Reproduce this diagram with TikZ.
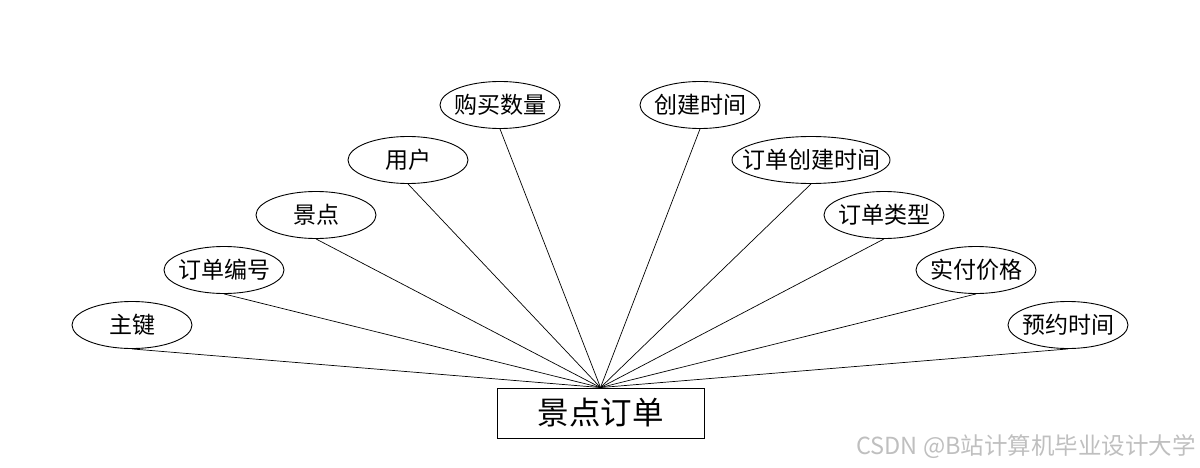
\documentclass[tikz,border=0pt]{standalone}
\usepackage{fontspec}
\setmainfont{Noto Sans CJK SC}
\usetikzlibrary{shapes.geometric}
\begin{document}
\begin{tikzpicture}[x=1pt,y=-1pt,
  attr/.style={draw,ellipse,line width=0.9pt,minimum width=120pt,minimum height=47pt,inner sep=0pt,font=\fontsize{23}{26}\selectfont},
  ent/.style={draw,rectangle,line width=0.9pt,minimum width=207pt,minimum height=50pt,inner sep=0pt,font=\fontsize{31.5}{36}\selectfont},
  conn/.style={line width=0.7pt}]
\useasboundingbox (0,0) rectangle (1200,468);
\node[ent] (box) at (600.5,413) {景点订单};
\coordinate (hub) at (box.north);
\node[attr] (a1) at (132,325) {\makebox[0pt]{主键}};
\node[attr] (a2) at (224,270) {\makebox[0pt]{订单编号}};
\node[attr] (a3) at (316,215) {\makebox[0pt]{景点}};
\node[attr] (a4) at (408,160) {\makebox[0pt]{用户}};
\node[attr] (a5) at (500,105) {\makebox[0pt]{购买数量}};
\node[attr] (a6) at (700,105) {\makebox[0pt]{创建时间}};
\node[attr,minimum width=158pt] (a7) at (811,160) {\makebox[0pt]{订单创建时间}};
\node[attr] (a8) at (884,215) {\makebox[0pt]{订单类型}};
\node[attr] (a9) at (976,270) {\makebox[0pt]{实付价格}};
\node[attr] (a10) at (1068,325) {\makebox[0pt]{预约时间}};
\foreach \i in {1,...,10} {\draw[conn] (a\i.south) -- (hub);}
\node[anchor=east,text=black!25,inner sep=0pt,font=\fontsize{23.5}{26}\selectfont] (wm) at (1196,447) {CSDN @B站计算机毕业设计大学};
\end{tikzpicture}
\end{document}
